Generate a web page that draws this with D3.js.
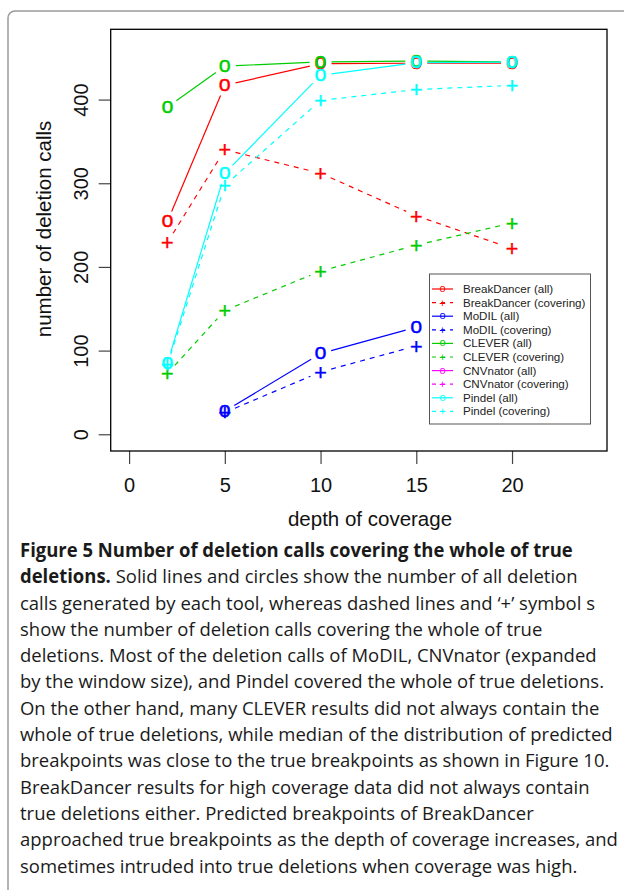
<!DOCTYPE html>
<html>
<head>
<meta charset="utf-8">
<script src="https://cdn.jsdelivr.net/npm/d3@7"></script>
<style>
  body { margin: 0; background: #fff; }
  svg { display: block; }
</style>
</head>
<body>
<div id="chart"></div>
<script>
// Depth of coverage on x
const depth = [2, 5, 10, 15, 20];

// Number of deletion calls per tool (null = no point)
const breakDancerAll = [254, 417, 443, 443.5, 443.5];
const breakDancerCovering = [229, 340, 312, 261, 222];
const modilAll = [null, 27.5, 96.5, 128, null];
const modilCovering = [null, 26, 74.5, 105.5, null];
const cleverAll = [391, 440, 445, 446, 445];
const cleverCovering = [72.5, 148, 195, 226, 252.5];
const cnvnatorAll = [null, null, null, null, null];
const cnvnatorCovering = [null, null, null, null, null];
const pindelAll = [85, 312, 429, 444, 445];
const pindelCovering = [83, 297.5, 399, 412, 417];

const xTicks = [0, 5, 10, 15, 20];
const yTicks = [0, 100, 200, 300, 400];

const series = [
  { name: "BreakDancer (all)", values: breakDancerAll, color: "#ff0000", dashed: false },
  { name: "BreakDancer (covering)", values: breakDancerCovering, color: "#ff0000", dashed: true },
  { name: "MoDIL (all)", values: modilAll, color: "#0000ff", dashed: false },
  { name: "MoDIL (covering)", values: modilCovering, color: "#0000ff", dashed: true },
  { name: "CLEVER (all)", values: cleverAll, color: "#00cd00", dashed: false },
  { name: "CLEVER (covering)", values: cleverCovering, color: "#00cd00", dashed: true },
  { name: "CNVnator (all)", values: cnvnatorAll, color: "#ff00ff", dashed: false },
  { name: "CNVnator (covering)", values: cnvnatorCovering, color: "#ff00ff", dashed: true },
  { name: "Pindel (all)", values: pindelAll, color: "#00ffff", dashed: false },
  { name: "Pindel (covering)", values: pindelCovering, color: "#00ffff", dashed: true }
];

// Caption lines (bold runs marked)
const captionLines = [
  [["Figure 5 Number of deletion calls covering the whole of true", true]],
  [["deletions.", true], [" Solid lines and circles show the number of all deletion", false]],
  [["calls generated by each tool, whereas dashed lines and \u2018+\u2019 symbol s", false]],
  [["show the number of deletion calls covering the whole of true", false]],
  [["deletions. Most of the deletion calls of MoDIL, CNVnator (expanded", false]],
  [["by the window size), and Pindel covered the whole of true deletions.", false]],
  [["On the other hand, many CLEVER results did not always contain the", false]],
  [["whole of true deletions, while median of the distribution of predicted", false]],
  [["breakpoints was close to the true breakpoints as shown in Figure 10.", false]],
  [["BreakDancer results for high coverage data did not always contain", false]],
  [["true deletions either. Predicted breakpoints of BreakDancer", false]],
  [["approached true breakpoints as the depth of coverage increases, and", false]],
  [["sometimes intruded into true deletions when coverage was high.", false]]
];

const width = 624;
const height = 890;
const rFont = "'Liberation Sans', Arial, Helvetica, sans-serif";

const svg = d3
  .select("#chart")
  .append("svg")
  .attr("width", width)
  .attr("height", height);

svg.append("rect").attr("width", width).attr("height", height).attr("fill", "#fff");

// Figure frame (rounded, runs off the page)
svg
  .append("rect")
  .attr("x", 8)
  .attr("y", 11)
  .attr("width", 760)
  .attr("height", 1000)
  .attr("rx", 7)
  .attr("fill", "none")
  .attr("stroke", "#9a9a9a")
  .attr("stroke-width", 1.5);

// Plot region
const plot = { left: 110.7, right: 607, top: 29.3, bottom: 451 };

const x = d3.scaleLinear().domain([-0.96, 24.96]).range([plot.left, plot.right]);
const y = d3.scaleLinear().domain([-20, 484]).range([plot.bottom, plot.top]);

// Axes
const xAxis = svg
  .append("g")
  .attr("transform", `translate(0,${plot.bottom})`)
  .call(d3.axisBottom(x).tickValues(xTicks).tickSize(13).tickFormat(d3.format("d")));
xAxis.select(".domain").remove();
xAxis.selectAll("line").attr("stroke", "#444").attr("stroke-width", 1.2);
xAxis
  .selectAll("text")
  .attr("y", 41)
  .attr("dy", null)
  .attr("fill", "#111")
  .style("font-family", rFont)
  .style("font-size", "20px");

const yAxis = svg
  .append("g")
  .attr("transform", `translate(${plot.left},0)`)
  .call(d3.axisLeft(y).tickValues(yTicks).tickSize(12).tickFormat(d3.format("d")));
yAxis.select(".domain").remove();
yAxis.selectAll("line").attr("stroke", "#444").attr("stroke-width", 1.2);
yAxis
  .selectAll("text")
  .attr("x", null)
  .attr("dy", null)
  .attr("transform", "translate(-23,0) rotate(-90)")
  .attr("text-anchor", "middle")
  .attr("fill", "#111")
  .style("font-family", rFont)
  .style("font-size", "20px");

// Box
svg
  .append("rect")
  .attr("x", plot.left)
  .attr("y", plot.top)
  .attr("width", plot.right - plot.left)
  .attr("height", plot.bottom - plot.top)
  .attr("fill", "none")
  .attr("stroke", "#000")
  .attr("stroke-width", 1.3);

// Axis titles
svg
  .append("text")
  .attr("x", 370)
  .attr("y", 526)
  .attr("text-anchor", "middle")
  .attr("fill", "#111")
  .style("font-family", rFont)
  .style("font-size", "20.5px")
  .text("depth of coverage");

svg
  .append("text")
  .attr("transform", "translate(51,229) rotate(-90)")
  .attr("text-anchor", "middle")
  .attr("fill", "#111")
  .style("font-family", rFont)
  .style("font-size", "20.5px")
  .text("number of deletion calls");

// Lines with gaps around the points (like R type = "b")
const gap = 11;
const lines = svg.append("g");
series.forEach((s) => {
  const pts = depth.map((d, i) =>
    s.values[i] == null ? null : [x(d), y(s.values[i])]
  );
  for (let i = 0; i < pts.length - 1; i++) {
    const p = pts[i];
    const q = pts[i + 1];
    if (!p || !q) continue;
    const dx = q[0] - p[0];
    const dy = q[1] - p[1];
    const len = Math.hypot(dx, dy);
    if (len <= 2 * gap) continue;
    const ux = dx / len;
    const uy = dy / len;
    lines
      .append("line")
      .attr("x1", p[0] + ux * gap)
      .attr("y1", p[1] + uy * gap)
      .attr("x2", q[0] - ux * gap)
      .attr("y2", q[1] - uy * gap)
      .attr("stroke", s.color)
      .attr("stroke-width", 1.2)
      .attr("stroke-dasharray", s.dashed ? "5,5" : null);
  }
});

// Point symbols: "o" for all, "+" for covering
const symSize = 21.5;
const points = svg.append("g").style("font-family", rFont).style("font-size", symSize + "px");
series.forEach((s) => {
  points
    .selectAll(null)
    .data(depth.map((d, i) => ({ d, v: s.values[i] })).filter((p) => p.v != null))
    .enter()
    .append("text")
    .attr("x", (p) => x(p.d))
    .attr("y", (p) => y(p.v) + (s.dashed ? 0.355 : 0.265) * symSize)
    .attr("text-anchor", "middle")
    .attr("fill", s.color)
    .attr("stroke", s.color)
    .attr("stroke-width", 0.4)
    .text(s.dashed ? "+" : "o");
});

// Legend
const legend = { left: 429.5, top: 274, right: 590.5, bottom: 424 };
svg
  .append("rect")
  .attr("x", legend.left)
  .attr("y", legend.top)
  .attr("width", legend.right - legend.left)
  .attr("height", legend.bottom - legend.top)
  .attr("fill", "#fff")
  .attr("stroke", "#555")
  .attr("stroke-width", 1);

const rowStep = 13.6;
const legendRows = svg
  .append("g")
  .selectAll("g")
  .data(series)
  .enter()
  .append("g")
  .attr("transform", (_, i) => `translate(0,${289 + i * rowStep})`);

legendRows
  .append("line")
  .attr("x1", 432)
  .attr("x2", 453)
  .attr("stroke", (d) => d.color)
  .attr("stroke-width", 1.2)
  .attr("stroke-dasharray", (d) => (d.dashed ? "4,5" : null));

legendRows
  .append("text")
  .attr("x", 442.5)
  .attr("y", (d) => (d.dashed ? 0.355 : 0.265) * 11)
  .attr("text-anchor", "middle")
  .attr("fill", (d) => d.color)
  .style("font-family", rFont)
  .style("font-size", "11px")
  .text((d) => (d.dashed ? "+" : "o"));

legendRows
  .append("text")
  .attr("x", 463)
  .attr("y", 4)
  .attr("fill", "#222")
  .style("font-family", rFont)
  .style("font-size", "11.6px")
  .text((d) => d.name);

// Caption
const cap = svg
  .append("g")
  .style("font-family", "'Open Sans', 'Noto Sans', sans-serif")
  .style("font-size", "19px")
  .attr("fill", "#1a1a1a");

captionLines.forEach((runs, i) => {
  const t = cap.append("text").attr("x", 0).attr("y", 557 + i * 26.3);
  runs.forEach(([str, bold]) => {
    t.append("tspan").attr("font-weight", bold ? 700 : 400).text(str);
  });
});

// squeeze horizontally so the widest line fits like the source typeface
const refWidth = cap.selectAll("text").nodes()[7].getComputedTextLength();
const sx = 593 / refWidth;
cap.attr("transform", `translate(20,0) scale(${sx},1)`);
</script>
</body>
</html>
